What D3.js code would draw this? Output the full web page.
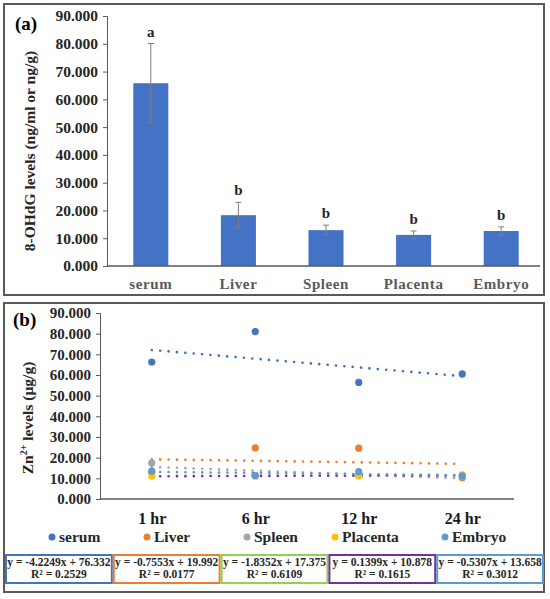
<!DOCTYPE html>
<html>
<head>
<meta charset="utf-8">
<script src="https://cdn.jsdelivr.net/npm/d3@7"></script>
<style>
  body { margin: 0; background: #fff; }
  svg text { font-family: "Liberation Serif", "Times New Roman", serif; font-weight: bold; }
</style>
</head>
<body>
<div id="chart-container"></div>
<script>
// Panel (a): 8-OHdG levels
const tissues = ["serum", "Liver", "Spleen", "Placenta", "Embryo"];
const barMeans = [65.8, 18.3, 12.9, 11.2, 12.6];
const barErrors = [14.3, 4.6, 1.8, 1.4, 1.5];
const barLetters = ["a", "b", "b", "b", "b"];

// Panel (b): Zn2+ levels over time
const times = ["1 hr", "6 hr", "12 hr", "24 hr"];
const seriesNames = ["serum", "Liver", "Spleen", "Placenta", "Embryo"];
const serumZn = [66.3, 81.0, 56.4, 60.5];
const liverZn = [12.9, 24.7, 24.6, 10.3];
const spleenZn = [17.4, 11.2, 11.6, 11.0];
const placentaZn = [11.1, 11.0, 11.1, 11.7];
const embryoZn = [13.5, 11.4, 13.2, 11.2];
const trendSlopes = [-4.2249, -0.7553, -1.8352, 0.1399, -0.5307];
const trendIntercepts = [76.332, 19.992, 17.375, 10.878, 13.658];
const trendR2 = ["0.2529", "0.0177", "0.6109", "0.1615", "0.3012"];
const yTicks = [0, 10, 20, 30, 40, 50, 60, 70, 80, 90];

const markerColors = ["#4472C4", "#ED7D31", "#A5A5A5", "#FFC000", "#5B9BD5"];
const trendColors = ["#4472C4", "#ED7D31", "#A5A5A5", "#7030A0", "#5B9BD5"];
const boxColors = ["#4472C4", "#ED7D31", "#92D050", "#7030A0", "#5B9BD5"];

const width = 550, height = 599;
const svg = d3.select("#chart-container").append("svg")
  .attr("width", width).attr("height", height);

const fmt = d3.format(".3f");

// ---------- panel (a) ----------
svg.append("rect").attr("x", 4).attr("y", 4).attr("width", 540).attr("height", 291)
  .attr("fill", "none").attr("stroke", "#595959").attr("stroke-width", 2);

const xA = d3.scaleBand().domain(tissues).range([107, 545]).paddingInner(0.6).paddingOuter(0.3);
const yA = d3.scaleLinear().domain([0, 90]).range([266, 16]);

const yAxA = svg.append("g").attr("transform", "translate(107,0)")
  .call(d3.axisLeft(yA).tickValues(yTicks).tickFormat(fmt).tickSize(4).tickPadding(5));
yAxA.select(".domain").attr("stroke", "#595959");
yAxA.selectAll(".tick line").attr("stroke", "#595959");
yAxA.selectAll("text").attr("font-size", 15.5).attr("fill", "#262626");

svg.append("g").selectAll("rect").data(tissues).join("rect")
  .attr("x", d => xA(d)).attr("width", xA.bandwidth())
  .attr("y", (d, i) => yA(barMeans[i]))
  .attr("height", (d, i) => yA(0) - yA(barMeans[i]))
  .attr("fill", "#4472C4");

const xAxA = svg.append("g").attr("transform", "translate(0,266)")
  .call(d3.axisBottom(xA).tickSize(0).tickPadding(12));
xAxA.select(".domain").attr("stroke", "#595959").attr("stroke-width", 1.3)
  .attr("d", "M107,0H540");
xAxA.selectAll("text").attr("font-size", 15).attr("fill", "#595959").attr("letter-spacing", 0.6);

// error bars
const eb = svg.append("g").attr("stroke", "#7F7F7F").attr("stroke-width", 1);
tissues.forEach((t, i) => {
  const cx = xA(t) + xA.bandwidth() / 2;
  const top = yA(barMeans[i] + barErrors[i]), bot = yA(barMeans[i] - barErrors[i]);
  eb.append("line").attr("x1", cx).attr("x2", cx).attr("y1", top).attr("y2", bot);
  eb.append("line").attr("x1", cx - 3).attr("x2", cx + 3).attr("y1", top).attr("y2", top);
  eb.append("line").attr("x1", cx - 3).attr("x2", cx + 3).attr("y1", bot).attr("y2", bot);
});

svg.append("g").selectAll("text").data(tissues).join("text")
  .attr("x", d => xA(d) + xA.bandwidth() / 2)
  .attr("y", (d, i) => yA(barMeans[i] + barErrors[i]) - 7)
  .attr("text-anchor", "middle").attr("font-size", 15).attr("fill", "#262626")
  .text((d, i) => barLetters[i]);

svg.append("text").attr("x", 15).attr("y", 30).attr("font-size", 19).text("(a)");
svg.append("text").attr("transform", "translate(35,151) rotate(-90)")
  .attr("text-anchor", "middle").attr("font-size", 15.5).attr("fill", "#262626")
  .text("8-OHdG levels (ng/ml or ng/g)");

// ---------- panel (b) ----------
svg.append("rect").attr("x", 4).attr("y", 303).attr("width", 540).attr("height", 289)
  .attr("fill", "none").attr("stroke", "#595959").attr("stroke-width", 2);

const xB = d3.scalePoint().domain(times).range([100, 514]).padding(0.5);
const yB = d3.scaleLinear().domain([0, 90]).range([499, 313]);
const xTrend = d3.scaleLinear().domain([1, 4]).range([xB(times[0]), xB(times[3])]);

const yAxB = svg.append("g").attr("transform", "translate(100,0)")
  .call(d3.axisLeft(yB).tickValues(yTicks).tickFormat(fmt).tickSize(4).tickPadding(5));
yAxB.select(".domain").attr("stroke", "#595959");
yAxB.selectAll(".tick line").attr("stroke", "#595959");
yAxB.selectAll("text").attr("font-size", 15).attr("fill", "#262626");

const xAxB = svg.append("g").attr("transform", "translate(0,499)")
  .call(d3.axisBottom(xB).tickSize(0).tickPadding(14));
xAxB.select(".domain").attr("stroke", "#595959").attr("stroke-width", 1.3)
  .attr("d", "M100,0H514");
xAxB.selectAll("text").attr("font-size", 16).attr("fill", "#1a1a1a");

// trendlines
seriesNames.forEach((s, i) => {
  svg.append("line")
    .attr("x1", xTrend(1)).attr("x2", xTrend(4))
    .attr("y1", yB(trendSlopes[i] * 1 + trendIntercepts[i]))
    .attr("y2", yB(trendSlopes[i] * 4 + trendIntercepts[i]))
    .attr("stroke", trendColors[i]).attr("stroke-width", 2.6)
    .attr("stroke-linecap", "round").attr("stroke-dasharray", "0.1 8.3");
});

// markers
const allZn = [serumZn, liverZn, spleenZn, placentaZn, embryoZn];
allZn.forEach((vals, i) => {
  svg.append("g").selectAll("circle").data(vals).join("circle")
    .attr("cx", (d, j) => xB(times[j])).attr("cy", d => yB(d))
    .attr("r", 3.6).attr("fill", markerColors[i]);
});

svg.append("text").attr("x", 13).attr("y", 326).attr("font-size", 19).text("(b)");
svg.append("text").attr("transform", "translate(33,418) rotate(-90)")
  .attr("text-anchor", "middle").attr("font-size", 15.5).attr("fill", "#262626")
  .html('Zn<tspan font-size="10" dy="-6">2+</tspan><tspan dy="6"> levels (µg/g)</tspan>');

// legend
const legendX = [52, 147, 247, 335, 445];
const leg = svg.append("g");
seriesNames.forEach((s, i) => {
  leg.append("circle").attr("cx", legendX[i]).attr("cy", 537).attr("r", 3.5).attr("fill", markerColors[i]);
  leg.append("text").attr("x", legendX[i] + 7).attr("y", 542)
    .attr("font-size", 15.5).attr("fill", "#262626").text(s);
});

// equation boxes
const xBox = d3.scaleBand().domain(seriesNames).range([5, 544]);
seriesNames.forEach((s, i) => {
  const x0 = xBox(s), w = xBox.bandwidth();
  svg.append("rect").attr("x", x0 + 1).attr("y", 555).attr("width", w - 2).attr("height", 28)
    .attr("fill", "#fff").attr("stroke", boxColors[i]).attr("stroke-width", 2);
  const sign = trendIntercepts[i] >= 0 ? " + " : " - ";
  svg.append("text").attr("x", x0 + w / 2).attr("y", 566).attr("text-anchor", "middle")
    .attr("font-size", 11.5).attr("fill", "#262626")
    .text(`y = ${trendSlopes[i]}x${sign}${Math.abs(trendIntercepts[i])}`);
  svg.append("text").attr("x", x0 + w / 2).attr("y", 578).attr("text-anchor", "middle")
    .attr("font-size", 11.5).attr("fill", "#262626")
    .text(`R² = ${trendR2[i]}`);
});
</script>
</body>
</html>
